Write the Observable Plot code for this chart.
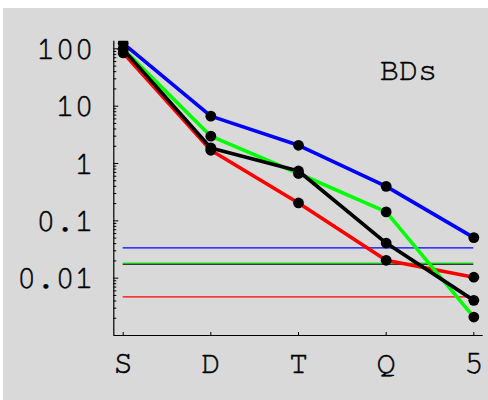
<!DOCTYPE html>
<html><head><meta charset="utf-8">
<script src="https://cdn.jsdelivr.net/npm/d3@7"></script>
<script src="https://cdn.jsdelivr.net/npm/@observablehq/plot@0.6"></script>
<style>
html,body{margin:0;padding:0;background:#fff;}
#chart{position:absolute;left:3px;top:8px;}
#chart svg text{font-family:"FreeMono","Courier New",Courier,monospace !important;font-weight:normal;stroke:#000;stroke-width:0.45px;}
</style></head><body><div id="chart"></div>
<script>
const categories = ["S","D","T","Q","5"];
const blueValues  = [125, 6.7, 2.08, 0.40, 0.051];
const greenValues = [100, 3.0, 0.67, 0.143, 0.0021];
const blackValues = [98, 1.87, 0.74, 0.041, 0.0041];
const redValues   = [85, 1.7, 0.205, 0.0205, 0.0104];
const seriesOrder = ["s-red","s-green","s-black","s-blue"];
const seriesColors = ["#ff0000","#00ff00","#000000","#0000ff"];
const thresholdNames  = ["s-blue","s-green","s-black","s-red"];
const thresholdValues = [0.0337, 0.0183, 0.0175, 0.00472];
const yTickValues = [0.01, 0.1, 1, 10, 100];
const yTickLabels = ["0.01","0.1","1","10","100"];
const yMinorTicks = [0.002,0.003,0.004,0.005,0.006,0.007,0.008,0.009,
  0.02,0.03,0.04,0.05,0.06,0.07,0.08,0.09,
  0.2,0.3,0.4,0.5,0.6,0.7,0.8,0.9,
  2,3,4,5,6,7,8,9,20,30,40,50,60,70,80,90];
const panelLabel = "BDs";

const seriesMap = {"s-blue": blueValues, "s-green": greenValues, "s-black": blackValues, "s-red": redValues};
const rows = [];
for (const s of seriesOrder) seriesMap[s].forEach((v, i) => rows.push({series: s, i, value: v}));
const thr = thresholdNames.map((n, k) => ({series: n, value: thresholdValues[k]}));

const font = "FreeMono, 'Courier New', monospace";
const xLo = -0.107, xHi = 4.107, yLo = 0.001, yHi = 136;

const chart = Plot.plot({
  width: 485, height: 392,
  marginLeft: 110.3, marginRight: 5.3, marginTop: 32.7, marginBottom: 65,
  style: {background: "#d9d9d9", fontFamily: font, color: "#000", overflow: "visible"},
  x: {type: "linear", domain: [xLo, xHi], label: null},
  y: {type: "log", domain: [yLo, yHi], label: null},
  color: {domain: seriesOrder, range: seriesColors},
  marks: [
    Plot.ruleY(thr, {y: "value", x1: 0, x2: 4, stroke: "series", strokeWidth: 1.2}),
    Plot.line(rows, {x: "i", y: "value", z: "series", stroke: "series", strokeWidth: 3.6, clip: true}),
    Plot.dot(rows, {x: "i", y: "value", r: 5.4, fill: "#000", stroke: null, clip: true}),
    Plot.ruleX([xLo], {stroke: "#000", strokeWidth: 1.2}),
    Plot.ruleY([yLo], {stroke: "#000", strokeWidth: 1.2}),
    Plot.axisY({ticks: yTickValues, tickSize: 0, tickPadding: 20, tickFormat: d => yTickLabels[yTickValues.indexOf(d)], fontSize: 32, label: null}),
    Plot.axisY({ticks: yTickValues, tickSize: 5, dx: 5, text: null, strokeWidth: 1, label: null}),
    Plot.axisY({ticks: yMinorTicks, tickSize: 3, dx: 3, text: null, strokeWidth: 1, label: null}),
    Plot.axisX({ticks: [0,1,2,3,4], tickSize: 0, tickPadding: 15, tickFormat: d => categories[d], fontSize: 32, label: null}),
    Plot.axisX({ticks: [0,1,2,3,4], tickSize: 3, dy: -3, text: null, strokeWidth: 1, label: null}),
    Plot.text([panelLabel], {x: 3.255, y: 44, text: d => d, fontSize: 32, textAnchor: "middle", lineAnchor: "middle"})
  ]
});
document.getElementById("chart").appendChild(chart);
</script></body></html>
